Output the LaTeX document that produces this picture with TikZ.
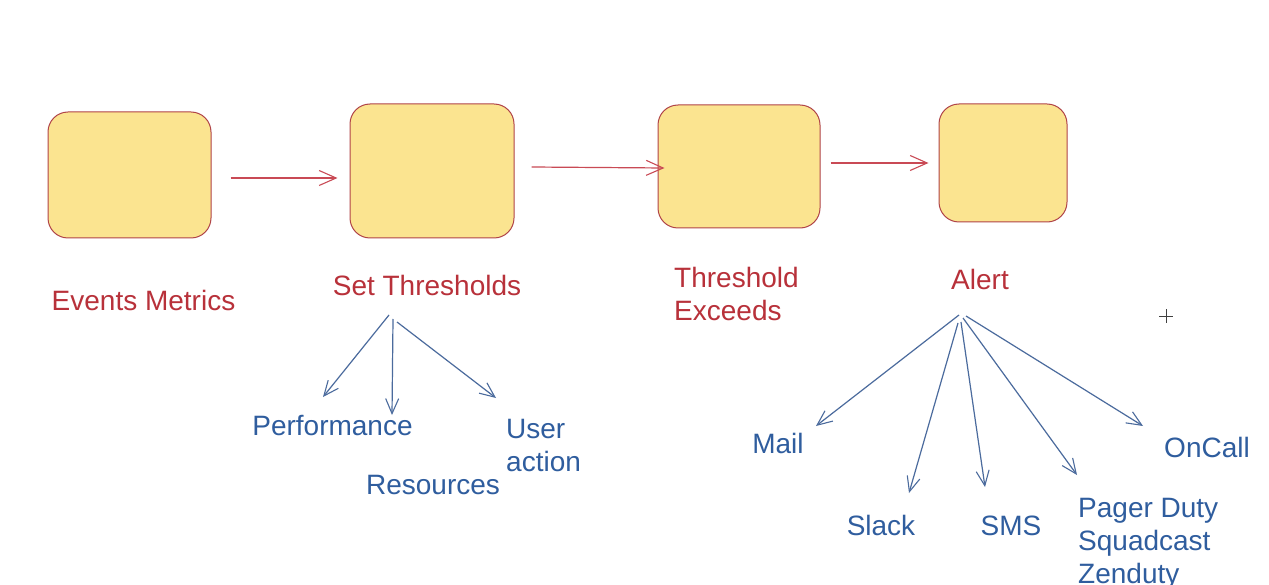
\documentclass[tikz,border=0pt]{standalone}
\usepackage{fontspec}
\setmainfont{Liberation Sans}
\usetikzlibrary{arrows.meta}
\definecolor{boxfill}{HTML}{FBE490}
\definecolor{boxline}{HTML}{B04448}
\definecolor{redtxt}{HTML}{B8313A}
\definecolor{redarr}{HTML}{C94A55}
\definecolor{bluetxt}{HTML}{2F5D9E}
\definecolor{bluearr}{HTML}{4B6B9D}
\tikzset{
  stagebox/.style={draw=boxline, line width=1pt, fill=boxfill, rounded corners=20pt, inner sep=0pt},
  redlabel/.style={text=redtxt, font=\fontsize{28}{33}\selectfont, inner sep=0pt},
  bluelabel/.style={text=bluetxt, font=\fontsize{28}{33}\selectfont, inner sep=0pt},
  redflow/.style={draw=redarr, line width=1.2pt, -{Straight Barb[length=17pt,width=15pt,line width=1.1pt]}},
  blueflow/.style={draw=bluearr, line width=1.2pt, -{Straight Barb[length=15pt,width=13pt,line width=1.1pt]}}
}
\begin{document}
\begin{tikzpicture}[x=1pt,y=-1pt]
\useasboundingbox[fill=white] (0,0) rectangle (1269,585);
% boxes
\node[stagebox, minimum width=163pt, minimum height=126pt] (b1) at (129.5,175) {};
\node[stagebox, minimum width=164pt, minimum height=134pt] (b2) at (432,171) {};
\node[stagebox, minimum width=162pt, minimum height=123pt] (b3) at (739,166.5) {};
\node[stagebox, minimum width=128pt, minimum height=118pt] (b4) at (1003,163) {};
% red arrows
\draw[redflow] ([shift={(19,3)}]b1.east) -- ([shift={(-12,7)}]b2.west);
\draw[redflow] ([shift={(17,-4)}]b2.east) -- ([shift={(7,1.5)}]b3.west);
\draw[redflow] ([shift={(10,-3.5)}]b3.east) -- ([shift={(-10,0)}]b4.west);
% red labels
\node[redlabel, anchor=base] (em) at (143.5,311) {Events Metrics};
\node[redlabel, anchor=base] (st) at (427,296) {Set Thresholds};
\node[redlabel, anchor=north west, align=left] (te) at (674,267) {Threshold\\Exceeds};
\node[redlabel, anchor=base] (al) at (980,290) {Alert};
% blue labels
\node[bluelabel, anchor=base] (perf) at (332.5,435) {Performance};
\node[bluelabel, anchor=base] (res) at (433,494) {Resources};
\node[bluelabel, anchor=north west, align=left] (ua) at (506,419) {User\\action};
\node[bluelabel, anchor=base] (mail) at (778,453) {Mail};
\node[bluelabel, anchor=base] (slack) at (881,535) {Slack};
\node[bluelabel, anchor=base] (sms) at (1011,535) {SMS};
\node[bluelabel, anchor=north west, align=left] (pd) at (1078,498) {Pager Duty\\Squadcast\\Zenduty};
\node[bluelabel, anchor=base] (oc) at (1207,457) {OnCall};
% blue arrows from Set Thresholds
\draw[blueflow] ([shift={(-38,19)}]st.base) -- ([shift={(-9.5,-38)}]perf.base);
\draw[blueflow] ([shift={(-34,23)}]st.base) -- ([shift={(-41,-79)}]res.base);
\draw[blueflow] ([shift={(-30,26)}]st.base) -- ([shift={(-10,-21)}]ua.north west);
% blue arrows from Alert
\draw[blueflow] ([shift={(-21,25)}]al.base) -- ([shift={(38,-27)}]mail.base);
\draw[blueflow] ([shift={(-22,33)}]al.base) -- ([shift={(28,-42)}]slack.base);
\draw[blueflow] ([shift={(-19,32)}]al.base) -- ([shift={(-26,-48)}]sms.base);
\draw[blueflow] ([shift={(-17,28)}]al.base) -- ([shift={(-1,-23)}]pd.north west);
\draw[blueflow] ([shift={(-14,26)}]al.base) -- ([shift={(-64,-31)}]oc.base);
% cursor cross
\coordinate (cur) at (1166,316);
\draw[draw=black!75, line width=0.9pt] ([xshift=-7pt]cur) -- ([xshift=7pt]cur);
\draw[draw=black!75, line width=0.9pt] ([yshift=-7pt]cur) -- ([yshift=7pt]cur);
\end{tikzpicture}
\end{document}
